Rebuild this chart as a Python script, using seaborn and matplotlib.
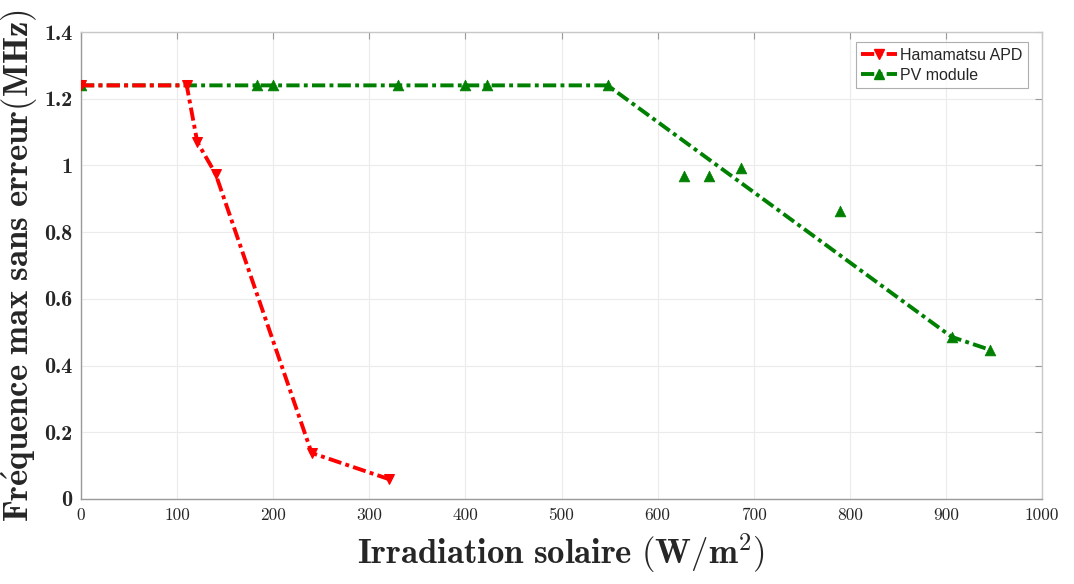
import matplotlib
matplotlib.use("Agg")
import matplotlib.pyplot as plt
import seaborn as sns
import pandas as pd
from matplotlib.lines import Line2D
from matplotlib.ticker import FuncFormatter

# ---- data ----
apd_x = [0, 110, 121, 140, 240, 320]
apd_y = [1.24, 1.24, 1.07, 0.975, 0.138, 0.06]

pv_x = [0, 183, 200, 330, 400, 422, 548, 627, 654, 687, 790, 906, 946]
pv_y = [1.24, 1.24, 1.24, 1.24, 1.24, 1.24, 1.24, 0.968, 0.968, 0.992, 0.862, 0.486, 0.447]

pv_fit_x = [0, 548, 906, 946]
pv_fit_y = [1.24, 1.24, 0.486, 0.447]

x_ticks = [0, 100, 200, 300, 400, 500, 600, 700, 800, 900, 1000]
y_ticks = [0, 0.2, 0.4, 0.6, 0.8, 1.0, 1.2, 1.4]

series_names = ["Hamamatsu APD", "PV module"]
x_label = r"$\mathbf{Irradiation\ solaire\ (W/m^2)}$"
y_label = r"$\mathbf{Fr\acute{e}quence\ max\ sans\ erreur(MHz)}$"

# ---- style ----
sns.set_theme(style="white")
plt.rcParams["mathtext.fontset"] = "cm"
plt.rcParams["axes.formatter.use_mathtext"] = True

red = "#ff0000"
green = "#008000"
dash = (0, (3.4, 1.1, 1.0, 1.1))

fig = plt.figure(figsize=(10.74, 5.84), dpi=100)
ax = fig.add_axes([81 / 1074, 1 - 499 / 584, (1042 - 81) / 1074, (499 - 32) / 584])

df_apd = pd.DataFrame({"x": apd_x, "y": apd_y})
df_fit = pd.DataFrame({"x": pv_fit_x, "y": pv_fit_y})
df_pv = pd.DataFrame({"x": pv_x, "y": pv_y})

sns.lineplot(data=df_fit, x="x", y="y", ax=ax, color=green, lw=2.8,
             linestyle=dash, sort=False, estimator=None, zorder=3)
sns.scatterplot(data=df_pv, x="x", y="y", ax=ax, color=green, marker="^",
                s=60, edgecolor=green, linewidth=0.5, zorder=4)
sns.lineplot(data=df_apd, x="x", y="y", ax=ax, color=red, lw=2.8,
             linestyle=dash, sort=False, estimator=None, marker="v",
             markersize=7.5, markeredgecolor=red, zorder=5)

ax.set_xlim(0, 1000)
ax.set_ylim(0, 1.4)
ax.set_xticks(x_ticks)
ax.set_yticks(y_ticks)
ax.yaxis.set_major_formatter(FuncFormatter(lambda v, p: f"{v:g}"))
ax.xaxis.set_major_formatter(FuncFormatter(lambda v, p: f"{v:g}"))

for lab in ax.get_xticklabels():
    lab.set_fontfamily("cmr10")
    lab.set_fontsize(12.5)
for lab in ax.get_yticklabels():
    lab.set_fontfamily("cmb10")
    lab.set_fontsize(16)

ax.grid(True, color="#ebebeb", lw=0.8)
ax.set_axisbelow(True)
for side in ["left", "bottom"]:
    ax.spines[side].set_color("#9a9a9a")
    ax.spines[side].set_linewidth(1.0)
for side in ["top", "right"]:
    ax.spines[side].set_color("#c8c8c8")
    ax.spines[side].set_linewidth(1.0)
ax.tick_params(axis="both", direction="in", length=5, width=0.8, color="#9a9a9a",
               top=True, right=True, labelcolor="#262626", pad=6)

ax.set_xlabel(x_label, fontsize=25, color="#262626", labelpad=6)
ax.set_ylabel(y_label, fontsize=25, color="#262626", labelpad=3)

handles = [
    Line2D([0], [0], color=red, lw=2.8, linestyle=dash, marker="v", markersize=7.5),
    Line2D([0], [0], color=green, lw=2.8, linestyle=dash, marker="^", markersize=7.5),
]
leg = ax.legend(handles, series_names, loc="upper right", bbox_to_anchor=(0.9935, 0.995),
                prop={"family": "Liberation Sans", "size": 11.5}, frameon=True,
                fancybox=False, edgecolor="#9a9a9a", handlelength=2.2,
                handletextpad=0.2, borderpad=0.35, labelspacing=0.3)
leg.get_frame().set_linewidth(0.8)

fig.savefig("out.png", dpi=100, facecolor="white")
